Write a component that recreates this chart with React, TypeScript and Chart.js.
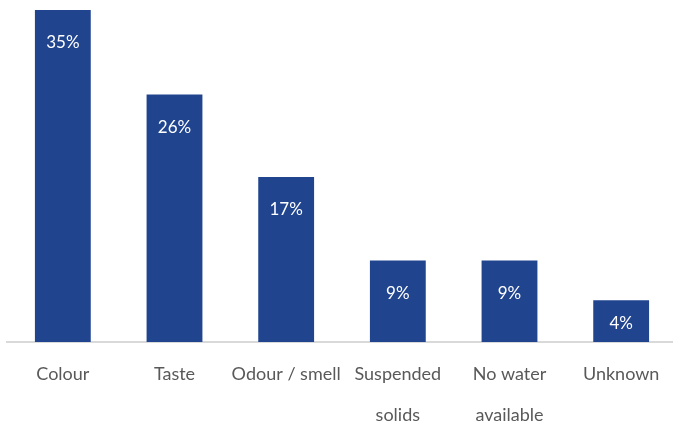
import React, { useEffect, useRef } from "react";
import { Chart, registerables } from "chart.js";

Chart.register(...registerables);

const categories: (string | string[])[] = [
  "Colour",
  "Taste",
  "Odour / smell",
  ["Suspended", "solids"],
  ["No water", "available"],
  "Unknown",
];
const values: number[] = [35.0, 26.1, 17.4, 8.6, 8.6, 4.4];

const FONT = "Lato, 'Open Sans', sans-serif";

const valueLabels = {
  id: "valueLabels",
  afterDatasetsDraw(chart: any) {
    const ctx = chart.ctx;
    const meta = chart.getDatasetMeta(0);
    ctx.save();
    ctx.fillStyle = "#ffffff";
    ctx.font = `17px ${FONT}`;
    ctx.textAlign = "center";
    ctx.textBaseline = "middle";
    meta.data.forEach((el: any, i: number) => {
      const v = chart.data.datasets[0].data[i];
      const y = Math.min(el.y + 33, (el.y + el.base) / 2 + 2);
      ctx.fillText(`${Math.round(v)}%`, el.x, y);
    });
    ctx.restore();
  },
};

export default function App() {
  const ref = useRef<HTMLCanvasElement>(null);
  useEffect(() => {
    document.body.style.margin = "0";
    document.body.style.overflow = "hidden";
    const chart = new Chart(ref.current!, {
      type: "bar",
      data: {
        labels: categories,
        datasets: [
          {
            data: values,
            backgroundColor: "#21448f",
            categoryPercentage: 1,
            barPercentage: 0.5,
          },
        ],
      },
      options: {
        animation: false,
        responsive: false,
        layout: { padding: { top: 10, left: 7, right: 0, bottom: 0 } },
        plugins: { legend: { display: false }, tooltip: { enabled: false } },
        scales: {
          x: {
            grid: { display: false, drawTicks: false },
            border: { display: true, color: "#d9d9d9", width: 2 },
            ticks: {
              color: "#595959",
              font: { family: FONT, size: 18, lineHeight: 41 / 18 },
              padding: 12,
              maxRotation: 0,
              autoSkip: false,
            },
            afterFit: (scale: any) => {
              scale.height = 84;
            },
          },
          y: {
            display: false,
            min: 0,
            max: 35,
          },
        },
      },
      plugins: [valueLabels],
    });
    return () => chart.destroy();
  }, []);
  return (
    <div style={{ width: 677, height: 426 }}>
      <canvas ref={ref} width={677} height={426} style={{ display: "block" }} />
    </div>
  );
}
